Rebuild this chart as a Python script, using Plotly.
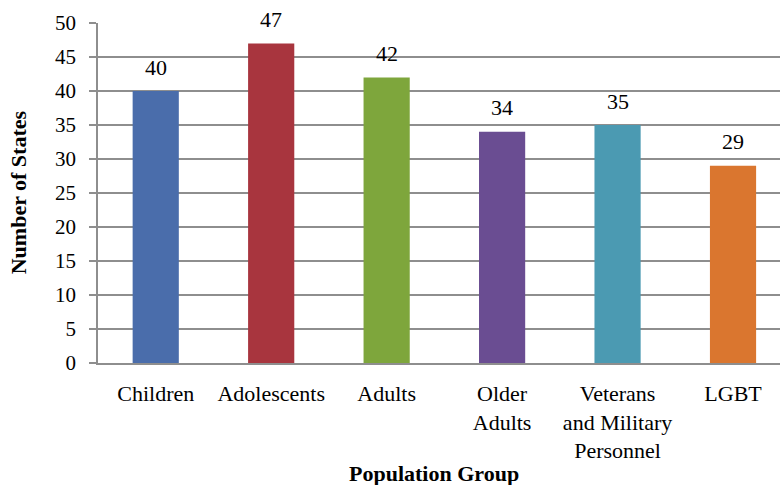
import plotly.graph_objects as go

# Population groups served and number of states for each
groups = ["Children", "Adolescents", "Adults", "Older<br>Adults",
          "Veterans<br>and Military<br>Personnel", "LGBT"]
states = [40, 47, 42, 34, 35, 29]
bar_colors = ["#4A6DAB", "#A8353E", "#7EA63C", "#6A4D92", "#4B9AB2", "#DA762F"]
y_ticks = [0, 5, 10, 15, 20, 25, 30, 35, 40, 45, 50]

FONT = "Liberation Serif, Times New Roman, serif"
GRID = "#8E8E8E"

L, T, B = 97.75, 23, 122
W, H = 780, 485
plot_w = W - L
plot_h = H - T - B


def px_x(x):
    return (x - L) / plot_w


def px_y(y):
    return (H - y - B) / plot_h


fig = go.Figure()
fig.add_trace(go.Bar(
    x=list(range(len(groups))),
    y=states,
    marker=dict(color=bar_colors, line=dict(width=0)),
    width=0.4,
    hoverinfo="skip",
))

# Value labels above each bar
for i, v in enumerate(states):
    fig.add_annotation(
        x=i, y=v, xref="x", yref="y",
        text=str(v), showarrow=False,
        xanchor="center", yanchor="middle", yshift=24,
        font=dict(family=FONT, size=22, color="#000000"),
    )

# Axis titles
fig.add_annotation(
    x=px_x(434), y=px_y(473), xref="paper", yref="paper",
    text="<b>Population Group</b>", showarrow=False,
    xanchor="center", yanchor="middle",
    font=dict(family=FONT, size=22, color="#000000"),
)
fig.add_annotation(
    x=px_x(18), y=px_y(192), xref="paper", yref="paper",
    text="<b>Number of States</b>", showarrow=False, textangle=-90,
    xanchor="center", yanchor="middle",
    font=dict(family=FONT, size=22, color="#000000"),
)

fig.update_layout(
    width=W, height=H,
    margin=dict(l=L, r=0, t=T, b=B, pad=0),
    paper_bgcolor="#FFFFFF",
    plot_bgcolor="#FFFFFF",
    showlegend=False,
    font=dict(family=FONT, size=22, color="#000000"),
    xaxis=dict(
        tickmode="array",
        tickvals=list(range(len(groups))),
        ticktext=groups,
        range=[-0.5, -0.5 + plot_w / 115.5],
        showgrid=False,
        showline=True, linecolor=GRID, linewidth=1.5,
        ticks="",
        tickfont=dict(family=FONT, size=22, color="#000000"),
        ticklabelstandoff=10,
        zeroline=False,
        fixedrange=True,
    ),
    yaxis=dict(
        range=[0, 50],
        tickmode="array",
        tickvals=y_ticks,
        showgrid=True, gridcolor=GRID, gridwidth=1.5,
        showline=True, linecolor=GRID, linewidth=1.5,
        ticks="outside", ticklen=7, tickcolor=GRID, tickwidth=1.5,
        tickfont=dict(family=FONT, size=21, color="#000000"),
        ticklabelstandoff=9,
        zeroline=False,
        fixedrange=True,
    ),
)

fig.write_html("out.html", config={"displayModeBar": False})
